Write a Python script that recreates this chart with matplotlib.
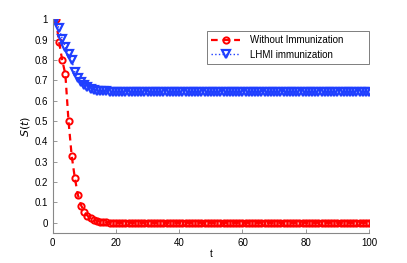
import numpy as np
import matplotlib.pyplot as plt

plt.rcParams['font.family'] = ['Liberation Sans', 'DejaVu Sans']

t = np.arange(1, 101)

without_head = [1.0, 0.89, 0.80, 0.73, 0.50, 0.33, 0.22, 0.135, 0.085, 0.055,
                0.035, 0.022, 0.014, 0.009, 0.005, 0.003, 0.002, 0.001]
lhmi_head = [1.0, 0.955, 0.905, 0.863, 0.83, 0.80, 0.74, 0.71, 0.69, 0.675,
             0.665, 0.658, 0.653, 0.65, 0.648, 0.647, 0.646]

without_imm = np.array(without_head + [0.0] * (100 - len(without_head)))
lhmi_imm = np.array(lhmi_head + [0.645] * (100 - len(lhmi_head)))

fig = plt.figure(figsize=(4.07, 2.63), dpi=100)
ax = fig.add_axes([52.7 / 407, 1 - 233 / 263, (369 - 52.7) / 407, (233 - 19.3) / 263])

ax.plot(t, without_imm, color='red', linestyle='--', linewidth=1.6, dashes=(3, 2.2),
        marker='o', markersize=4.5, markerfacecolor='none', markeredgewidth=1.4,
        label='Without Immunization')
ax.plot(t, lhmi_imm, color='#1f3fff', linestyle=':', linewidth=1.0,
        marker='v', markersize=6.3, markerfacecolor='none', markeredgewidth=1.6,
        label='LHMI immunization')

ax.set_xlim(0, 100)
ax.set_ylim(-0.05, 1)
ax.set_xticks([0, 20, 40, 60, 80, 100])
ax.set_yticks(np.arange(0, 1.01, 0.1))
ax.set_yticklabels(['0', '0.1', '0.2', '0.3', '0.4', '0.5', '0.6', '0.7', '0.8', '0.9', '1'])
ax.tick_params(direction='in', labelsize=7, length=3, width=0.6, color='#888888')
ax.spines['top'].set_visible(False)
ax.spines['right'].set_visible(False)
for s in ['left', 'bottom']:
    ax.spines[s].set_color('#888888')
    ax.spines[s].set_linewidth(0.8)

ax.set_xlabel('t', fontsize=7, labelpad=1)
ax.set_ylabel('$S(t)$', fontsize=8, labelpad=2)

leg = ax.legend(loc='upper left', bbox_to_anchor=(0.488, 0.791, 0.512, 0.154),
                mode='expand', borderaxespad=0, fontsize=7,
                fancybox=False, edgecolor='#444444', handlelength=3.0,
                handletextpad=1.0, borderpad=0.4, labelspacing=0.5)
leg.get_frame().set_linewidth(0.6)

fig.savefig('out.png', dpi=100)
